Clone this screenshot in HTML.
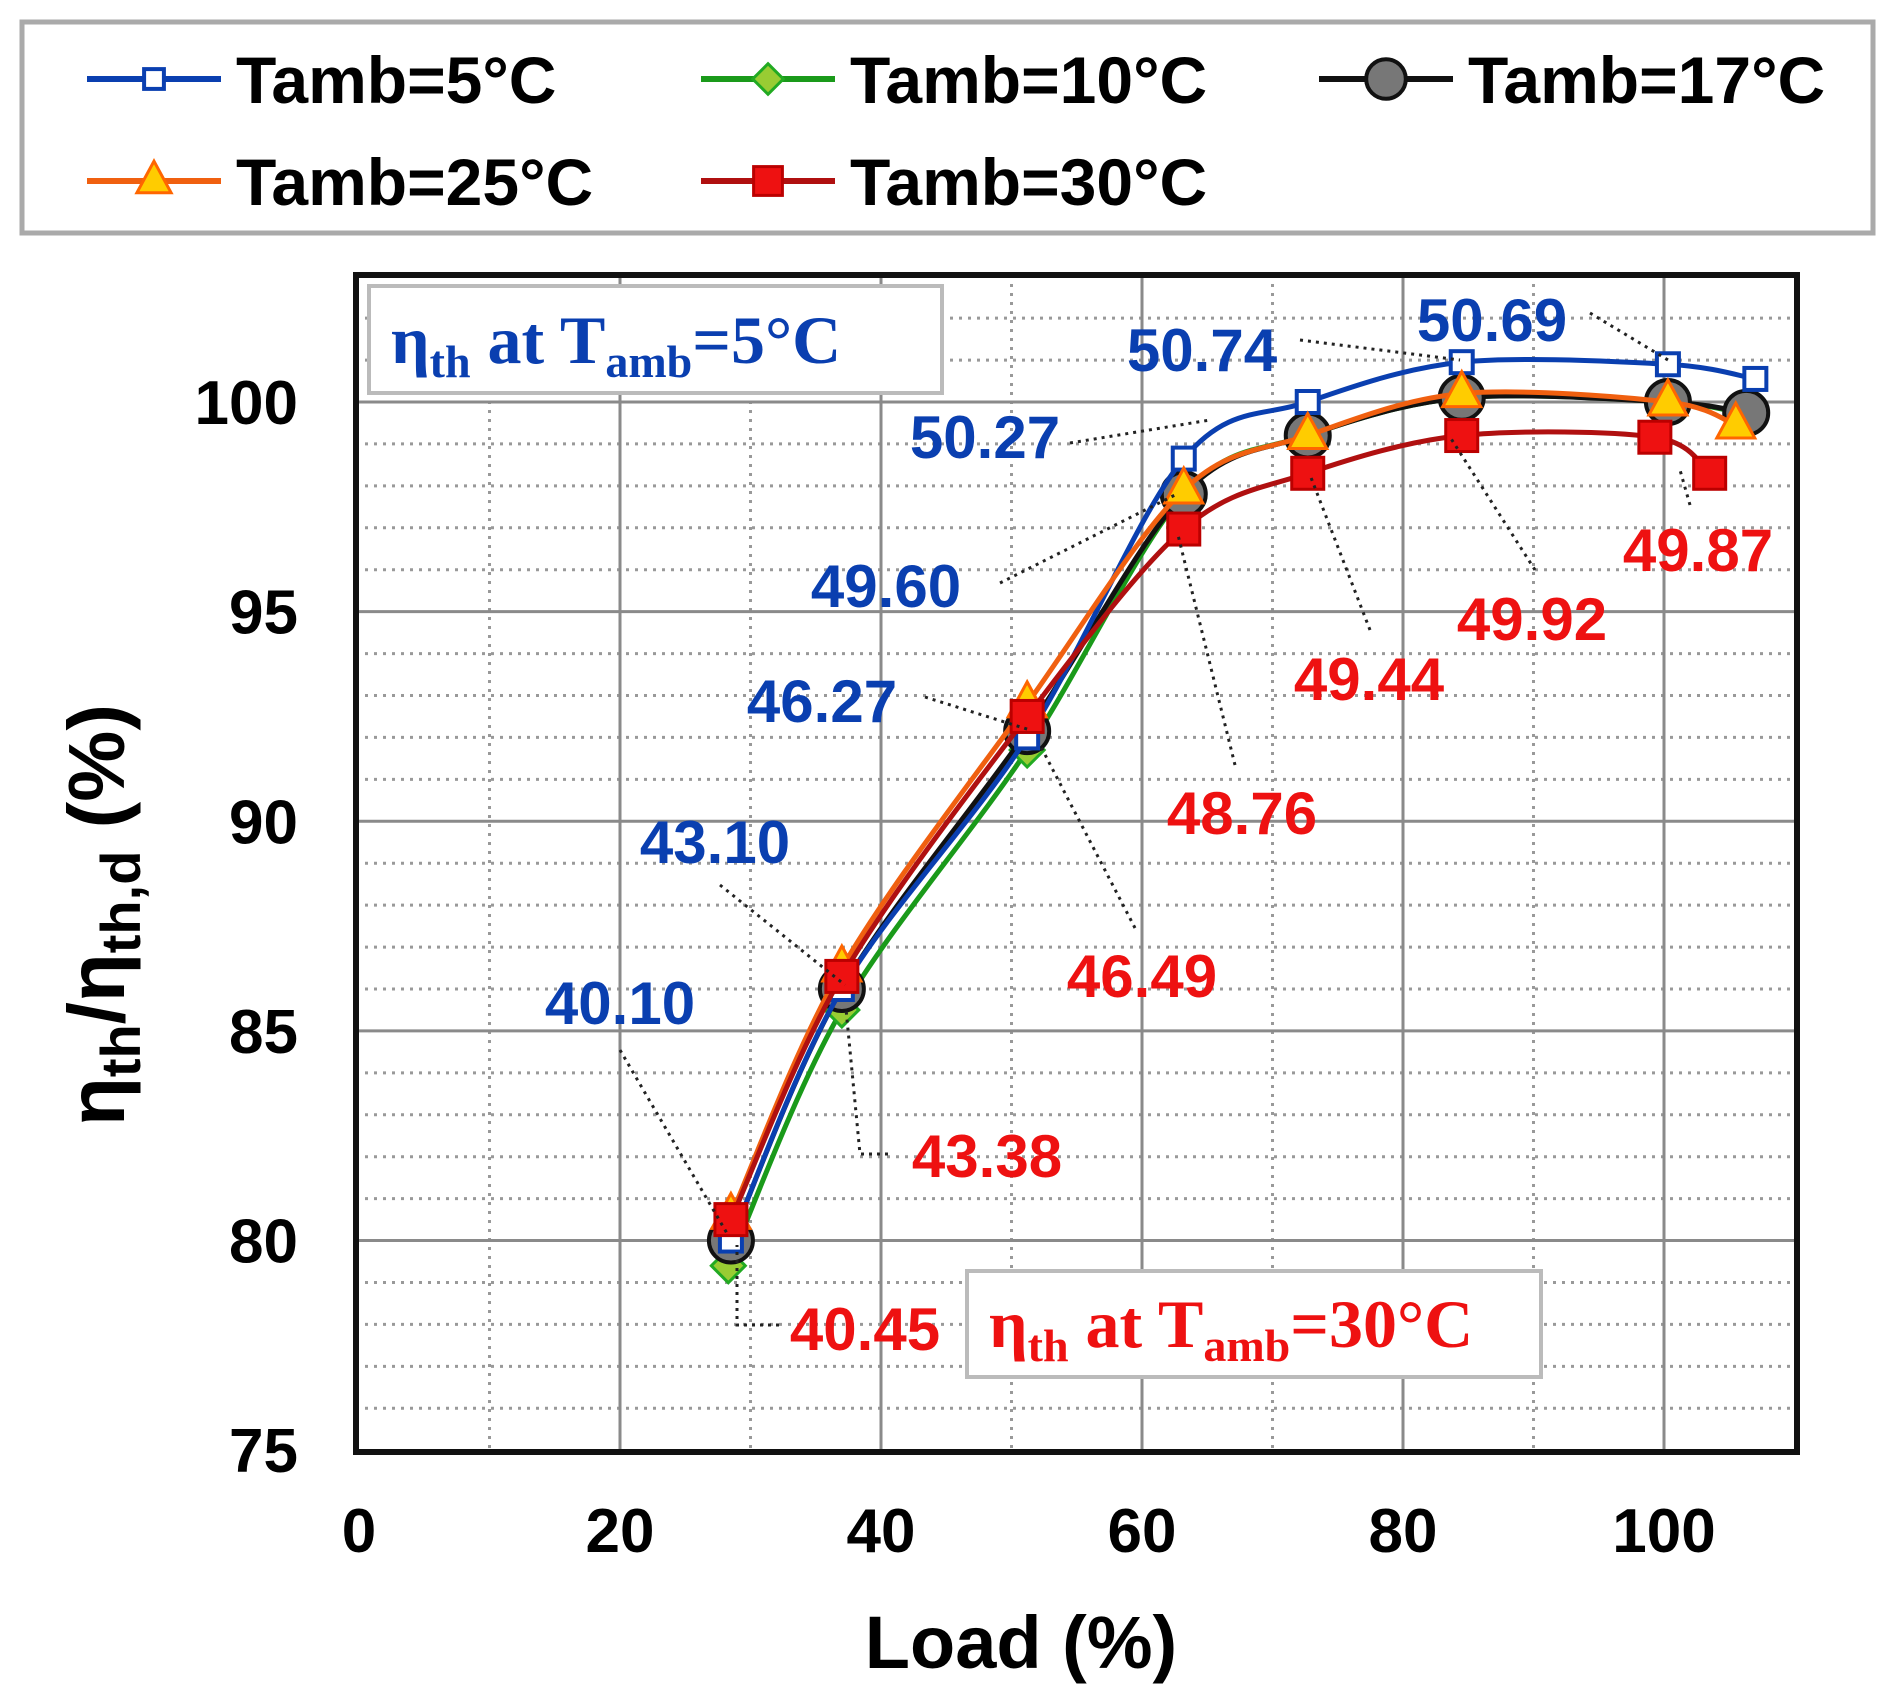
<!DOCTYPE html>
<html><head><meta charset="utf-8"><style>
html,body{margin:0;padding:0;background:#fff;}
svg{display:block;}
</style></head><body>
<svg id="chart" width="1885" height="1704" viewBox="0 0 1885 1704" xmlns="http://www.w3.org/2000/svg" font-family="Liberation Sans, Arial, sans-serif">
<g id="grid"></g>
<g id="series"></g>
<g id="labels"></g>
<g id="legend"></g>
</svg>
<script>
const NS='http://www.w3.org/2000/svg';
const xTicks=[0,20,40,60,80,100];
const yTicks=[75,80,85,90,95,100];
const blueVals=[80.0,86.0,92.0,98.65,100.0,100.95,100.9,100.55];
const blueX=[28.5,37,51.2,63.2,72.7,84.5,100.3,107];
const greenVals=[79.4,85.5,91.7,97.8,99.2,100.1,100.0,99.7];
const greenX=[28.3,37,51.2,63.2,72.7,84.5,100.3,106.3];
const greyVals=[80.0,86.0,92.15,97.8,99.2,100.1,100.0,99.74];
const greyX=[28.5,37,51.2,63.2,72.7,84.5,100.3,106.3];
const orangeVals=[80.6,86.5,92.8,97.9,99.2,100.2,100.0,99.45];
const orangeX=[28.5,37,51.2,63.2,72.7,84.5,100.3,105.5];
const redVals=[80.5,86.3,92.5,96.97,98.3,99.2,99.16,98.3];
const redX=[28.5,37,51.2,63.2,72.7,84.5,99.3,103.5];
const blueLabels=['40.10','43.10','46.27','49.60','50.27','50.74','50.69'];
const redLabels=['40.45','43.38','46.49','48.76','49.44','49.92','49.87'];

const X0=359,XS=13.05,Y100=402,YS=34.7*1.2083;
const xs=v=>X0+v*XS, ys=v=>Y100-(v-100)*YS;
const PL=356,PR=1797,PT=275,PB=1452;
function el(t,a,p){const e=document.createElementNS(NS,t);for(const k in a)e.setAttribute(k,a[k]);p.appendChild(e);return e;}
const grid=document.getElementById('grid');
for(let v=10;v<110;v+=20){const e=el('line',{x1:xs(v),x2:xs(v),y1:PT,y2:PB,stroke:'#999','stroke-width':3,'stroke-dasharray':'3 6'},grid);

}
for(let v=76;v<103;v++){if(v%5===0)continue;const e=el('line',{x1:PL,x2:PR,y1:ys(v),y2:ys(v),stroke:'#999','stroke-width':3,'stroke-dasharray':'3 6'},grid);

}
xTicks.forEach(v=>{if(v>0){const e=el('line',{x1:xs(v),x2:xs(v),y1:PT,y2:PB,stroke:'#8a8a8a','stroke-width':3},grid);

}
const t=el('text',{x:xs(v),y:1552,'text-anchor':'middle','font-size':62,'font-weight':'bold'},grid);t.textContent=v;

});
yTicks.forEach(v=>{if(v>75){const e=el('line',{x1:PL,x2:PR,y1:ys(v),y2:ys(v),stroke:'#8a8a8a','stroke-width':3},grid);

}
const t=el('text',{x:298,y:ys(v)+22,'text-anchor':'end','font-size':62,'font-weight':'bold'},grid);t.textContent=v;

});
const fr=el('rect',{x:PL,y:PT,width:PR-PL,height:PB-PT,fill:'none',stroke:'#111','stroke-width':6},grid);


const xt=el('text',{x:1021,y:1668,'text-anchor':'middle','font-size':74,'font-weight':'bold'},grid);xt.textContent='Load (%)';


const yt=el('text',{x:0,y:0,'text-anchor':'middle','font-size':80,'font-weight':'bold',transform:'translate(124,915) rotate(-90)'},grid);
yt.innerHTML='η<tspan font-size="56" dy="16">th</tspan><tspan dy="-16">/η</tspan><tspan font-size="56" dy="16">th,d</tspan><tspan dy="-16"> (%)</tspan>';



function spline(pts){let d='M'+pts[0][0]+','+pts[0][1];for(let i=0;i<pts.length-1;i++){const p0=pts[i-1]||pts[i],p1=pts[i],p2=pts[i+1],p3=pts[i+2]||p2;const t=0.16;
d+=` C${p1[0]+(p2[0]-p0[0])*t},${p1[1]+(p2[1]-p0[1])*t} ${p2[0]-(p3[0]-p1[0])*t},${p2[1]-(p3[1]-p1[1])*t} ${p2[0]},${p2[1]}`;}return d;}
const S=document.getElementById('series');
function marker(g,type,x,y,c,k){k=k||1;let m;
if(type==='sq-open'){m=el('rect',{x:x-11*k,y:y-11*k,width:22*k,height:22*k,fill:'#fff',stroke:c,'stroke-width':4},g);}
else if(type==='diamond'){m=el('polygon',{points:`${x},${y-17*k} ${x+17*k},${y} ${x},${y+17*k} ${x-17*k},${y}`,fill:'#9c3',stroke:'#2a2','stroke-width':3},g);}
else if(type==='circle'){m=el('circle',{cx:x,cy:y,r:22*k,fill:'#777',stroke:'#111','stroke-width':4},g);}
else if(type==='tri'){m=el('polygon',{points:`${x},${y-22*k} ${x+19*k},${y+13*k} ${x-19*k},${y+13*k}`,fill:'#fc0',stroke:'#f60','stroke-width':3},g);}
else {m=el('rect',{x:x-16*k,y:y-16*k,width:32*k,height:32*k,fill:'#e11',stroke:'#b00','stroke-width':3},g);}
return m;}
const defs=[['green',greenX,greenVals,'#1a9a1a','diamond'],['grey',greyX,greyVals,'#111','circle'],['blue',blueX,blueVals,'#0a3fb0','sq-open'],['orange',orangeX,orangeVals,'#f06010','tri'],['red',redX,redVals,'#b01010','sq']];
defs.forEach(([n,xv,yv,c,mt])=>{const g=el('g',{},S);


const pts=xv.map((v,i)=>[xs(v),ys(yv[i])]);
const p=el('path',{d:spline(pts),fill:'none',stroke:c,'stroke-width':5},g);


pts.forEach(q=>{const m=marker(g,mt,q[0],q[1],c);

});});

const L=document.getElementById('labels');
const bluePos=[[620,1003],[715,842],[822,701],[886,586],[985,437],[1202,350],[1492,320]];
const redPos=[[865,1329],[987,1156],[1142,976],[1242,813],[1369,679],[1532,619],[1698,550]];
const blueLead=[[[620,1050],[728,1235]],[[720,885],[845,985]],[[925,697],[1030,730]],[[1000,583],[1175,495]],[[1070,443],[1210,420]],[[1300,340],[1460,360]],[[1590,313],[1668,360]]];
const redLead=[[[779,1325],[737,1325],[737,1245]],[[888,1154],[860,1154],[846,1009]],[[1135,928],[1040,745]],[[1235,765],[1178,535]],[[1370,630],[1310,475]],[[1535,570],[1450,437]],[[1690,505],[1680,470]]];
function lbl(arr,pos,lead,col,n){arr.forEach((s,i)=>{const ld=lead[i];
const pl=el('polyline',{points:ld.map(p=>p.join(',')).join(' '),fill:'none',stroke:'#222','stroke-width':3,'stroke-dasharray':'3 5'},L);


const t=el('text',{x:pos[i][0],y:pos[i][1]+21,'text-anchor':'middle','font-size':60,'font-weight':'bold',fill:col},L);t.textContent=s;

});}
lbl(blueLabels,bluePos,blueLead,'#0a3fb0','blue');
lbl(redLabels,redPos,redLead,'#ee1111','red');
function box(x,y,w,h,col,tmp,n){const g=el('g',{},L);


el('rect',{x,y,width:w,height:h,fill:'#fff',stroke:'#bbb','stroke-width':4},g);
const t=el('text',{x:x+22,y:y+h-30,'font-size':68,'font-family':'Liberation Serif, serif',fill:col,'font-weight':'bold'},g);
t.innerHTML=`η<tspan font-size="46" dy="14">th</tspan><tspan dy="-14"> at T</tspan><tspan font-size="46" dy="14">amb</tspan><tspan dy="-14">=${tmp}°C</tspan>`;}
box(369,286,573,107,'#0a3fb0','5','annotation-5c');
box(967,1271,574,106,'#ee1111','30','annotation-30c');

const LG=document.getElementById('legend');
const lr=el('rect',{x:22,y:22,width:1851,height:211,fill:'#fff',stroke:'#aaa','stroke-width':5},LG);


const legNames=['Tamb=5°C','Tamb=10°C','Tamb=17°C','Tamb=25°C','Tamb=30°C'];
const legDefs=[[87,79,2],[701,79,0],[1319,79,1],[87,181,3],[701,181,4]];
legNames.forEach((s,i)=>{const [x,y,k]=legDefs[i];const d=defs[k];const g=el('g',{},LG);


el('line',{x1:x,x2:x+134,y1:y,y2:y,stroke:d[3],'stroke-width':6},g);
marker(g,d[4],x+67,y,d[3],0.9);
const t=el('text',{x:x+149,y:y+24,'font-size':66,'font-weight':'bold'},g);t.textContent=s;});
</script>
</body></html>
